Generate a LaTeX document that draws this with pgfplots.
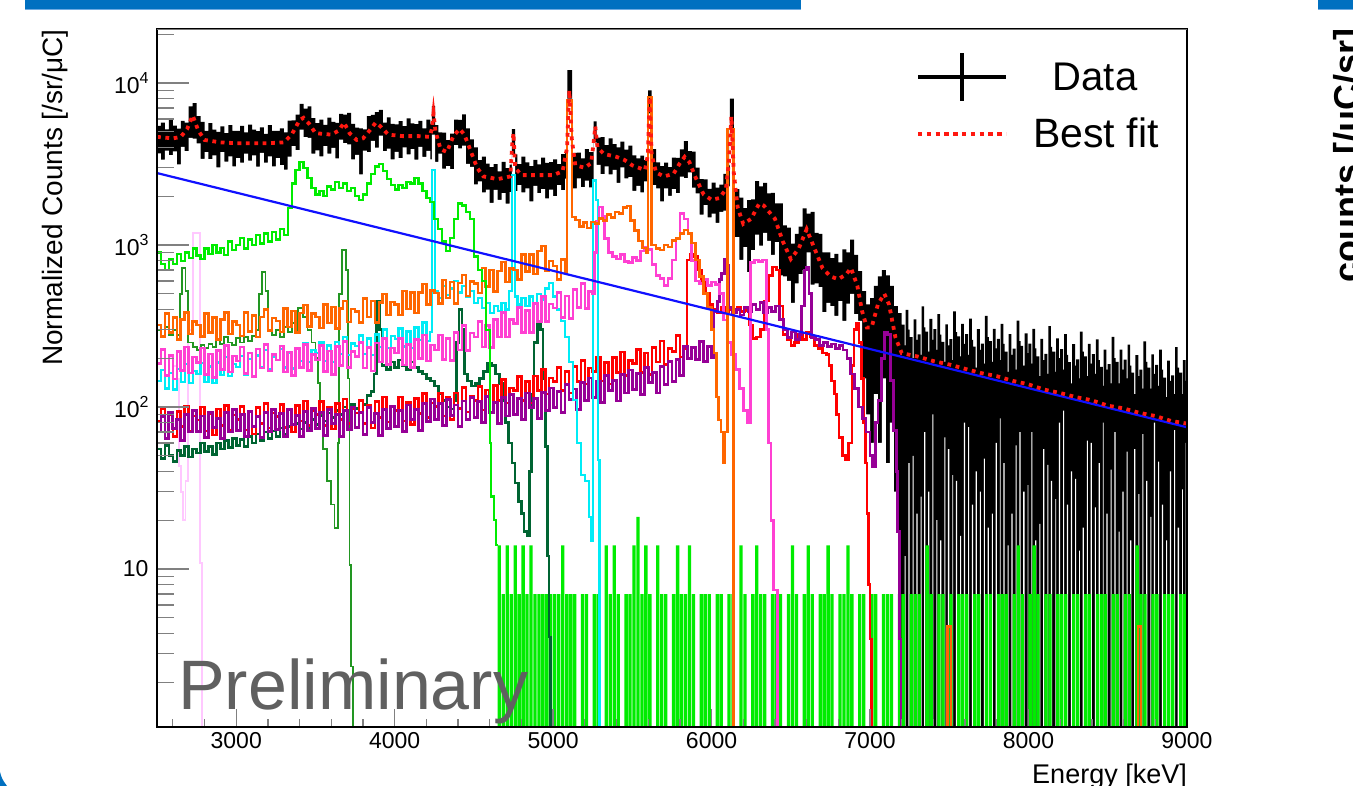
\documentclass[border=0pt]{standalone}
\usepackage{pgfplots}
\pgfplotsset{compat=1.18}
\usepackage{pgfplotstable}
\usepackage{fontspec}
\setmainfont{Liberation Sans}

\definecolor{cLime}{RGB}{0,236,0}
\definecolor{cCyan}{RGB}{0,236,246}
\definecolor{cOrange}{RGB}{255,102,0}
\definecolor{cPink}{RGB}{255,64,210}
\definecolor{cPale}{RGB}{255,200,255}
\definecolor{cGreenA}{RGB}{34,150,34}
\definecolor{cGreenB}{RGB}{0,100,50}
\definecolor{cRed}{RGB}{255,0,0}
\definecolor{cPurple}{RGB}{150,0,150}
\definecolor{cBlue}{RGB}{16,16,255}
\definecolor{cFit}{RGB}{255,24,16}
\definecolor{cDeco}{RGB}{0,112,192}
\definecolor{cDecoL}{RGB}{110,170,225}
\definecolor{cPrelim}{RGB}{96,96,96}
\definecolor{cFrame}{RGB}{120,120,120}

\newcommand\sz[1]{\fontsize{#1bp}{#1bp}\selectfont}
\newcommand\supr[1]{\raisebox{0.42em}{\sz{16}#1}}

% measured spectrum: lower and upper ends of the error bars per bin
\pgfplotstableread{
x lo hi
2490 1 1
2500 3680 5430
2525 3370 5690
2550 3830 5180
2575 3590 5980
2600 3780 5460
2625 3150 5220
2650 4040 5830
2675 3800 5700
2700 4590 7170
2725 4540 7500
2750 4240 6250
2775 3400 5750
2800 3740 5060
2825 3390 5660
2850 3570 5160
2875 3010 4990
2900 3740 5390
2925 3270 4900
2950 3530 5500
2975 3060 5060
3000 3440 5070
3025 3220 5440
3050 3660 4950
3075 3320 5530
3100 3570 5160
3125 3050 5050
3150 3700 5330
3175 3230 4850
3200 3530 5500
3225 3060 5060
3250 3440 5070
3275 3110 5250
3300 2920 4950
3325 3510 5850
3350 4070 5880
3375 3850 6380
3400 5160 7440
3425 4640 6950
3450 4590 7170
3475 3670 6070
3500 3840 5660
3525 3520 5940
3550 4080 5520
3575 3670 6110
3600 3980 5760
3625 3430 5680
3650 4470 6450
3675 4260 6380
3700 4180 6530
3725 3380 5590
3750 3600 5310
3775 2730 5250
3800 3830 5180
3825 3740 6240
3850 4400 6360
3875 3990 6610
3900 4730 6820
3925 3800 5700
3950 3940 6140
3975 3380 5590
4000 3760 5550
4025 3440 5810
4050 4000 5410
4075 3630 6050
4100 3900 5640
4125 3360 5570
4150 4040 5830
4175 3500 5240
4200 3810 5950
4225 3380 5590
4235 4800 7200
4255 3260 5500
4275 3660 4950
4300 2960 4940
4325 3070 4440
4350 2940 4870
4375 4130 5950
4400 3950 5930
4425 4100 6400
4450 3170 5240
4475 3040 4480
4500 2370 4000
4525 2470 3340
4550 2110 3510
4575 2200 3180
4600 1820 3020
4625 2190 3160
4650 1900 2850
4675 2090 3260
4700 1800 2980
4725 2120 3130
4740 3600 5200
4760 2150 3630
4775 2340 3160
4800 2110 3510
4825 2240 3240
4850 1860 3070
4875 2320 3350
4900 2090 3140
4925 2210 3460
4950 1940 3210
4975 2200 3250
5000 2000 3380
5025 2340 3160
5050 2180 3640
5075 2570 3720
5090 8000 12000
5120 2240 3710
5150 2580 3720
5175 2280 3420
5200 2500 3900
5225 2270 3750
5255 4300 5800
5275 3120 4600
5300 2740 4630
5325 3060 4140
5350 2730 4550
5375 2910 4200
5400 2420 4000
5425 3010 4340
5450 2580 3880
5475 2620 4100
5500 2160 3570
5525 2320 3420
5550 2110 3560
5575 2470 3340
5600 6500 9000
5622 2340 3900
5650 2240 3240
5675 1860 3070
5700 2240 3220
5725 2010 3020
5750 2210 3460
5775 2090 3450
5800 2640 3890
5825 2590 4380
5850 2810 3800
5875 2260 3770
5900 2080 3000
5925 1540 2550
5950 1760 2540
5975 1480 2220
6000 1560 2430
6025 1370 2260
6050 1600 2360
6075 1630 2750
6100 2300 3100
6115 5200 8000
6140 1120 2210
6175 810 1960
6200 970 1690
6225 680 1890
6250 930 1910
6275 1160 2480
6300 990 2300
6325 1190 2420
6350 1060 2080
6375 870 2100
6400 1040 1810
6425 650 1810
6450 640 1320
6475 600 1280
6500 440 1020
6525 580 1170
6550 660 1300
6575 700 1680
6600 900 1560
6625 570 1600
6650 580 1190
6675 550 1170
6700 385 900
6725 440 900
6750 420 830
6775 365 880
6800 450 780
6825 340 940
6850 435 900
6875 500 1080
6900 375 870
6925 340 690
6950 150 520
6975 90 430
7000 60 470
7025 120 560
7050 60 640
7075 150 700
7100 45 650
7125 80 560
7150 30 420
7175 1 380
7200 1 322
7219 12 240
7225 1 398
7242 45 300
7250 1 270
7269 50 200
7275 1 347
7292 22 260
7300 1 281
7319 28 210
7325 1 418
7342 70 310
7350 1 292
7367 30 220
7375 1 350
7394 90 260
7400 1 302
7419 20 225
7425 1 374
7442 15 280
7450 1 252
7469 65 190
7475 1 324
7492 55 240
7500 1 262
7519 38 195
7525 1 389
7542 35 290
7550 1 273
7569 16 205
7575 1 326
7592 80 245
7600 1 282
7619 75 210
7625 1 351
7642 25 260
7650 1 236
7667 40 175
7675 1 303
7694 30 225
7700 1 246
7719 48 185
7725 1 365
7742 18 270
7750 1 255
7769 22 190
7775 1 304
7792 60 230
7800 1 263
7819 85 195
7825 1 326
7842 45 245
7850 1 220
7869 14 165
7875 1 282
7892 22 210
7900 1 229
7919 58 170
7925 1 341
7942 70 255
7950 1 238
7967 30 180
7975 1 285
7994 33 215
8000 1 246
8019 70 185
8025 1 304
8042 15 230
8050 1 205
8069 19 155
8075 1 263
8092 55 195
8100 1 213
8119 44 160
8125 1 316
8142 35 235
8150 1 220
8169 27 165
8175 1 265
8192 80 200
8200 1 228
8219 95 170
8225 1 282
8242 25 210
8250 1 189
8267 40 140
8275 1 244
8294 36 180
8300 1 197
8319 13 150
8325 1 292
8342 18 220
8350 1 205
8369 62 155
8375 1 245
8392 60 185
8400 1 212
8419 24 160
8425 1 261
8442 45 195
8450 1 177
8469 80 135
8475 1 226
8492 22 170
8500 1 184
8519 41 140
8525 1 271
8542 70 200
8550 1 190
8569 17 140
8575 1 226
8592 30 170
8600 1 196
8619 53 150
8625 1 243
8642 15 180
8650 1 163
8667 55 120
8675 1 209
8694 29 155
8700 1 170
8719 68 130
8725 1 254
8742 35 190
8750 1 175
8769 21 130
8775 1 211
8792 80 160
8800 1 182
8819 46 135
8825 1 226
8842 25 170
8850 1 152
8869 15 115
8875 1 193
8892 40 145
8900 1 157
8919 72 120
8925 1 234
8942 18 175
8950 1 163
8969 31 120
8975 1 195
8992 60 145
9000 1 195
9010 1 1
}\tabData

% total fit
\pgfplotstableread{
x y
2500 4650
2600 4550
2650 4650
2690 5200
2725 6300
2760 5100
2800 4450
2900 4300
3000 4250
3100 4250
3200 4250
3300 4300
3350 4800
3400 5900
3425 6100
3460 5600
3500 4900
3600 4800
3650 5100
3680 5700
3715 4900
3760 4450
3800 4550
3850 5200
3880 5700
3910 5400
3960 4800
4050 4700
4150 4700
4220 4650
4235 5200
4245 6500
4258 5000
4290 3900
4330 3750
4370 4700
4410 5200
4440 4800
4480 3800
4520 3000
4560 2650
4650 2550
4730 2650
4742 4200
4750 4900
4760 3000
4800 2700
4900 2700
5000 2700
5060 2850
5088 4000
5102 9000
5118 4500
5140 3100
5200 3000
5240 3200
5258 4500
5266 5400
5280 4000
5320 3650
5400 3500
5450 3350
5500 3100
5580 2900
5598 3600
5610 8200
5622 3600
5650 2800
5700 2650
5760 2750
5800 3200
5830 3500
5860 3250
5900 2600
5950 2050
6000 1900
6050 1950
6090 2200
6110 3300
6125 6200
6140 2800
6165 1700
6200 1350
6250 1450
6300 1800
6330 1750
6400 1450
6450 1050
6500 820
6550 950
6600 1250
6650 950
6700 720
6750 640
6800 615
6850 660
6880 720
6920 560
6950 390
6980 310
7010 310
7050 430
7090 500
7120 430
7160 270
7200 215
7300 205
7400 192
7500 183
7600 172
7700 162
7800 155
7900 145
8000 138
8100 128
8200 122
8300 115
8400 110
8500 102
8600 98
8700 92
8800 88
8900 82
9000 79
}\tabFit

\pgfplotstableread{
x y
2500 900
2525 760
2550 700
2575 820
2600 760
2625 880
2650 800
2675 900
2700 830
2725 950
2750 860
2775 820
2800 950
2825 880
2850 1000
2875 900
2900 960
2925 870
2950 1050
2975 930
3000 1000
3025 1100
3050 950
3075 1080
3100 1000
3125 1150
3150 1020
3175 1180
3200 1050
3225 1200
3250 1080
3275 1250
3300 1150
3325 1700
3350 2400
3375 2900
3400 3250
3425 3000
3450 2600
3475 2250
3500 2050
3525 2150
3550 2000
3575 2300
3600 2200
3625 2450
3650 2250
3675 2400
3700 2150
3725 2250
3750 2000
3775 1900
3800 2050
3825 2400
3850 2750
3875 3050
3900 3150
3925 2850
3950 2550
3975 2350
4000 2200
4025 2350
4050 2250
4075 2450
4100 2400
4125 2600
4150 2400
4175 2150
4200 1950
4225 1850
4250 1450
4275 1250
4300 1050
4325 920
4350 1100
4375 1450
4400 1800
4425 1750
4450 1600
4475 1450
4500 850
4525 700
4550 600
4575 300
4600 60
4610 28
4625 20
4640 14
4650 14
}\tabLime

% low-statistics tail of the first component (single counts)
\pgfplotstableread{
x y
4640 1
4650 14
4671 1
4675 7
4696 1
4700 14
4721 1
4725 7
4746 1
4750 14
4771 1
4775 7
4796 1
4800 14
4821 1
4825 7
4846 1
4850 14
4871 1
4875 7
4896 1
4900 7
4921 1
4925 7
4946 1
4950 7
4971 1
4975 7
4996 1
5000 7
5021 1
5025 7
5046 1
5050 14
5071 1
5075 7
5096 1
5100 7
5121 1
5125 7
5146 1
5150 1
5175 7
5196 1
5200 7
5221 1
5225 1
5250 7
5271 1
5275 7
5296 1
5300 1
5325 14
5346 1
5350 7
5371 1
5375 14
5396 1
5400 7
5421 1
5425 1
5450 7
5471 1
5475 7
5496 1
5500 14
5521 1
5525 21
5546 1
5550 7
5571 1
5575 14
5596 1
5600 7
5621 1
5625 1
5650 14
5671 1
5675 7
5696 1
5700 7
5721 1
5725 1
5750 7
5771 1
5775 14
5796 1
5800 7
5821 1
5825 7
5846 1
5850 14
5871 1
5875 7
5896 1
5900 1
5925 7
5946 1
5950 7
5971 1
5975 7
5996 1
6000 1
6025 7
6046 1
6050 7
6071 1
6075 1
6100 7
6121 1
6125 7
6146 1
6150 1
6175 14
6196 1
6200 7
6221 1
6225 1
6250 7
6271 1
6275 14
6296 1
6300 7
6321 1
6325 7
6346 1
6350 1
6375 7
6396 1
6400 7
6421 1
6425 7
6446 1
6450 1
6475 7
6496 1
6500 14
6521 1
6525 7
6546 1
6550 1
6575 7
6596 1
6600 14
6621 1
6625 7
6646 1
6650 1
6675 7
6696 1
6700 7
6721 1
6725 14
6746 1
6750 7
6771 1
6775 1
6800 7
6821 1
6825 7
6846 1
6850 14
6871 1
6875 7
6896 1
6900 1
6925 7
6946 1
6950 7
6971 1
6975 1
7000 7
7021 1
7025 7
7046 1
7050 1
7075 7
7096 1
7100 7
7121 1
7125 7
7146 1
7150 1
7175 7
7196 1
7200 7
7221 1
7225 1
7250 7
7271 1
7275 7
7296 1
7300 7
7321 1
7325 1
7350 14
7371 1
7375 7
7396 1
7400 1
7425 7
7446 1
7450 7
7471 1
7475 1
7500 7
7521 1
7525 1
7550 7
7571 1
7575 7
7596 1
7600 7
7621 1
7625 1
7650 7
7671 1
7675 7
7696 1
7700 1
7725 7
7746 1
7750 7
7771 1
7775 1
7800 7
7821 1
7825 7
7846 1
7850 7
7871 1
7875 1
7900 7
7921 1
7925 14
7946 1
7950 7
7971 1
7975 1
8000 7
8021 1
8025 14
8046 1
8050 7
8071 1
8075 1
8100 7
8121 1
8125 7
8146 1
8150 1
8175 7
8196 1
8200 7
8221 1
8225 7
8246 1
8250 1
8275 7
8296 1
8300 7
8321 1
8325 1
8350 7
8371 1
8375 7
8396 1
8400 1
8425 7
8446 1
8450 7
8471 1
8475 7
8496 1
8500 1
8525 7
8546 1
8550 7
8571 1
8575 1
8600 7
8621 1
8625 7
8646 1
8650 1
8675 14
8696 1
8700 7
8721 1
8725 7
8746 1
8750 1
8775 7
8796 1
8800 7
8821 1
8825 1
8850 7
8871 1
8875 7
8896 1
8900 7
8921 1
8925 1
8950 7
8971 1
8975 7
8996 1
9000 7
9010 1
}\tabLimeLow

\pgfplotstableread{
x y
2500 145
2525 169
2550 130
2575 162
2600 128
2625 171
2650 143
2675 184
2700 141
2725 167
2750 160
2775 186
2800 143
2825 178
2850 141
2875 188
2900 158
2925 203
2950 156
2975 184
3000 177
3025 206
3050 158
3075 197
3100 156
3125 208
3150 175
3175 224
3200 172
3225 203
3250 195
3275 227
3300 175
3325 217
3350 173
3375 230
3400 193
3425 247
3450 190
3475 224
3500 215
3525 250
3550 193
3575 240
3600 190
3625 253
3650 212
3675 271
3700 210
3725 247
3750 237
3775 276
3800 213
3825 265
3850 210
3875 280
3900 234
3925 301
3950 231
3975 273
4000 262
4025 305
4050 236
4075 292
4100 232
4125 309
4150 259
4175 332
4200 256
4225 290
4235 2900
4255 520
4275 470
4300 560
4325 490
4350 540
4375 600
4400 510
4425 560
4450 480
4475 520
4500 440
4525 470
4550 410
4575 440
4600 380
4625 420
4650 390
4675 440
4700 400
4720 520
4740 2700
4760 480
4775 430
4800 470
4825 420
4850 480
4875 440
4900 500
4925 460
4950 540
4975 580
5000 480
5025 400
5050 340
5075 270
5100 190
5125 110
5150 60
5175 38
5200 35
5225 21
5240 15
5250 2500
5272 1900
5282 47
5292 1
9000 1
}\tabCyan

\pgfplotstableread{
x y
2500 320
2525 272
2550 378
2575 288
2600 358
2625 262
2650 346
2675 384
2700 282
2725 336
2750 320
2775 272
2800 378
2825 288
2850 358
2875 262
2900 346
2925 384
2950 282
2975 336
3000 320
3025 274
3050 382
3075 293
3100 367
3125 271
3150 359
3175 401
3200 296
3225 355
3250 340
3275 291
3300 407
3325 312
3350 391
3375 288
3400 381
3425 426
3450 314
3475 377
3500 360
3525 308
3550 431
3575 330
3600 414
3625 305
3650 405
3675 452
3700 334
3725 403
3750 388
3775 332
3800 466
3825 359
3850 451
3875 333
3900 443
3925 498
3950 370
3975 446
4000 430
4025 370
4050 519
4075 403
4100 511
4125 380
4150 510
4175 576
4200 431
4225 522
4250 505
4275 434
4300 609
4325 470
4350 591
4375 437
4400 582
4425 654
4450 484
4475 593
4500 580
4525 506
4550 720
4575 555
4600 700
4625 518
4650 691
4675 786
4700 590
4725 719
4750 700
4775 612
4800 873
4825 684
4850 874
4875 664
4900 918
4925 984
4950 695
4975 798
5000 740
5025 612
5050 814
5075 670
5088 7800
5118 1490
5140 1430
5165 1300
5190 1380
5215 1270
5240 1390
5265 1360
5290 1460
5315 1420
5340 1540
5365 1480
5390 1600
5415 1560
5440 1700
5465 1740
5490 1420
5515 1230
5540 1060
5565 960
5590 890
5600 8200
5622 1000
5650 950
5675 930
5700 1000
5725 970
5750 1070
5775 1100
5800 1180
5825 1240
5850 1180
5875 1030
5900 810
5925 640
5950 500
5975 410
6000 300
6015 215
6030 115
6045 83
6060 70
6075 45
6085 70
6100 5200
6140 1
7490 4.4
7510 1
8690 4.4
8710 1
9000 1
}\tabOrange

\pgfplotstableread{
x y
2500 185
2525 226
2550 156
2575 208
2600 149
2625 221
2650 168
2675 234
2700 162
2725 203
2750 188
2775 231
2800 159
2825 212
2850 152
2875 224
2900 171
2925 239
2950 164
2975 206
3000 192
3025 234
3050 161
3075 216
3100 154
3125 228
3150 174
3175 243
3200 167
3225 210
3250 195
3275 238
3300 164
3325 218
3350 156
3375 230
3400 176
3425 244
3450 168
3475 211
3500 195
3525 239
3550 165
3575 222
3600 159
3625 236
3650 181
3675 253
3700 175
3725 220
3750 205
3775 251
3800 174
3825 233
3850 167
3875 248
3900 190
3925 265
3950 183
3975 231
4000 215
4025 264
4050 182
4075 244
4100 175
4125 260
4150 199
4175 278
4200 192
4225 242
4250 225
4275 279
4300 196
4325 265
4350 193
4375 289
4400 225
4425 319
4450 224
4475 286
4500 270
4525 336
4550 235
4575 319
4600 232
4625 348
4650 270
4675 384
4700 270
4725 347
4750 328
4775 410
4800 289
4825 394
4850 288
4875 434
4900 338
4925 480
4950 337
4975 432
5000 408
5025 508
5050 356
5075 484
5100 352
5125 529
5150 410
5175 580
5200 406
5225 518
5250 500
5262 900
5275 1400
5290 1720
5310 1500
5325 1100
5350 900
5375 850
5400 820
5425 870
5450 790
5475 780
5500 840
5525 800
5550 920
5575 970
5600 940
5625 760
5650 650
5675 620
5700 560
5725 620
5750 810
5775 1100
5800 1570
5825 1450
5850 1180
5875 800
5900 600
5925 580
5950 610
5975 560
6000 590
6025 570
6050 500
6075 345
6100 250
6125 210
6150 170
6175 130
6200 95
6225 80
6245 780
6270 810
6295 790
6320 810
6345 300
6360 60
6375 20
6390 7.4
6415 1
9000 1
}\tabPink

\pgfplotstableread{
x y
2575 200
2600 180
2625 150
2638 43
2650 30
2665 20
2680 35
2695 300
2727 1180
2770 10.9
2785 1
}\tabPale

\pgfplotstableread{
x y
2500 300
2525 270
2550 310
2575 280
2600 300
2625 280
2645 500
2655 720
2680 520
2695 250
2725 235
2750 225
2775 240
2800 230
2825 245
2850 235
2875 260
2900 245
2925 270
2950 250
2975 240
3000 265
3025 250
3050 270
3075 255
3100 275
3125 300
3145 500
3160 680
3185 520
3200 300
3225 280
3250 300
3275 270
3300 310
3325 290
3350 330
3375 300
3390 410
3420 360
3450 300
3475 250
3500 200
3515 140
3530 90
3550 55
3575 35
3600 25
3620 18
3640 60
3650 500
3665 930
3690 700
3705 150
3715 10.6
3725 2.5
3735 1
3745 1
}\tabGreenA

\pgfplotstableread{
x y
2500 55
2525 48
2550 58
2575 50
2600 46
2625 54
2650 50
2675 57
2700 49
2725 55
2750 52
2775 60
2800 53
2825 57
2850 51
2875 60
2900 55
2925 62
2950 56
2975 64
3000 58
3025 63
3050 57
3075 66
3100 60
3125 68
3150 62
3175 70
3200 64
3225 71
3250 66
3275 74
3300 68
3325 76
3350 70
3375 79
3400 73
3425 80
3450 75
3475 84
3500 78
3525 88
3550 82
3575 92
3600 86
3625 95
3650 90
3675 100
3700 94
3725 104
3750 98
3775 110
3800 104
3825 118
3850 125
3870 160
3885 450
3905 300
3920 180
3950 170
3975 190
4000 175
4025 195
4050 180
4075 170
4100 190
4125 175
4150 165
4175 160
4200 150
4225 145
4250 135
4275 120
4300 110
4325 100
4350 97
4375 110
4390 250
4405 400
4425 300
4440 160
4460 145
4485 135
4510 140
4535 150
4560 165
4585 185
4610 180
4635 160
4660 140
4680 110
4700 80
4720 60
4740 45
4760 34
4780 26
4800 22
4815 17
4835 16
4850 40
4865 120
4880 250
4900 330
4920 300
4935 150
4950 57
4965 12
4975 3.8
4985 1
}\tabGreenB

\pgfplotstableread{
x y
2500 82
2525 98
2550 70
2575 90
2600 66
2625 94
2650 76
2675 101
2700 71
2725 88
2750 83
2775 100
2800 71
2825 91
2850 67
2875 97
2900 77
2925 102
2950 72
2975 89
3000 84
3025 101
3050 72
3075 94
3100 68
3125 99
3150 79
3175 105
3200 74
3225 92
3250 87
3275 104
3300 75
3325 97
3350 70
3375 102
3400 82
3425 109
3450 77
3475 95
3500 90
3525 108
3550 77
3575 100
3600 73
3625 105
3650 84
3675 112
3700 79
3725 98
3750 92
3775 110
3800 79
3825 102
3850 74
3875 108
3900 86
3925 115
3950 81
3975 101
4000 95
4025 115
4050 82
4075 107
4100 78
4125 113
4150 91
4175 121
4200 86
4225 106
4250 101
4275 122
4300 88
4325 114
4350 84
4375 122
4400 98
4425 132
4450 93
4475 116
4500 110
4525 134
4550 96
4575 127
4600 93
4625 136
4650 110
4675 148
4700 106
4725 131
4750 126
4775 154
4800 110
4825 144
4850 106
4875 155
4900 126
4925 170
4950 120
4975 151
5000 144
5025 175
5050 126
5075 166
5100 122
5125 178
5150 144
5175 194
5200 139
5225 174
5250 166
5275 202
5300 145
5325 189
5350 139
5375 202
5400 163
5425 218
5450 156
5475 194
5500 185
5525 227
5550 163
5575 216
5600 159
5625 233
5650 190
5675 256
5700 183
5725 230
5750 220
5775 276
5800 204
5825 230
5845 810
5865 870
5885 850
5910 700
5935 600
5960 500
5985 430
6010 400
6035 380
6060 410
6085 390
6110 400
6135 380
6160 410
6185 390
6210 395
6235 320
6260 265
6285 270
6310 300
6335 450
6360 650
6385 730
6410 700
6430 420
6450 280
6475 260
6500 240
6525 250
6550 280
6575 260
6600 290
6625 270
6650 240
6675 230
6700 215
6725 210
6740 180
6755 145
6775 120
6790 90
6805 65
6825 50
6845 47
6865 60
6885 180
6900 300
6915 330
6930 250
6945 150
6960 80
6970 45
6980 22
6990 8
7000 3.7
7010 1
}\tabRed

\pgfplotstableread{
x y
2500 70
2525 87
2550 64
2575 92
2600 74
2625 84
2650 62
2675 90
2700 70
2725 95
2750 71
2775 88
2800 65
2825 93
2850 75
2875 85
2900 64
2925 92
2950 70
2975 96
3000 72
3025 90
3050 66
3075 94
3100 76
3125 87
3150 65
3175 93
3200 71
3225 97
3250 73
3275 91
3300 66
3325 97
3350 78
3375 89
3400 66
3425 94
3450 72
3475 98
3500 74
3525 92
3550 67
3575 97
3600 79
3625 90
3650 66
3675 95
3700 73
3725 100
3750 75
3775 93
3800 68
3825 99
3850 80
3875 91
3900 67
3925 97
3950 74
3975 101
4000 76
4025 95
4050 71
4075 103
4100 84
4125 96
4150 72
4175 105
4200 81
4225 112
4250 84
4275 105
4300 77
4325 111
4350 89
4375 103
4400 76
4425 109
4450 84
4475 114
4500 86
4525 108
4550 80
4575 116
4600 93
4625 107
4650 79
4675 115
4700 88
4725 120
4750 90
4775 113
4800 84
4825 122
4850 99
4875 113
4900 85
4925 123
4950 95
4975 131
5000 99
5025 125
5050 93
5075 137
5100 111
5125 129
5150 97
5175 141
5200 110
5225 151
5250 115
5275 144
5300 107
5325 156
5350 127
5375 146
5400 109
5425 159
5450 122
5475 169
5500 128
5525 161
5550 120
5575 175
5600 142
5625 163
5650 122
5675 178
5700 137
5725 190
5750 144
5775 196
5800 156
5825 236
5850 200
5875 232
5900 196
5925 253
5950 192
5975 236
6000 201
6015 390
6035 450
6050 610
6065 670
6080 810
6095 750
6110 410
6130 380
6155 400
6180 370
6205 410
6230 390
6255 430
6280 400
6305 440
6330 380
6355 410
6380 390
6405 420
6430 345
6455 300
6480 270
6505 290
6530 260
6555 280
6570 420
6585 700
6600 730
6615 500
6630 270
6655 260
6680 240
6705 250
6730 235
6755 245
6780 230
6805 240
6830 225
6855 200
6875 160
6900 130
6925 100
6950 85
6975 70
7000 50
7015 43
7035 80
7050 110
7070 200
7090 290
7110 280
7130 145
7150 72
7165 40
7175 17
7185 3.7
7195 1
}\tabPurple

\begin{document}
\begin{tikzpicture}
\useasboundingbox (0,0) rectangle (1353bp,786bp);
\begin{axis}[
  at={(157bp,59bp)}, anchor=south west, scale only axis,
  width=1030bp, height=698bp,
  xmin=2500, xmax=9000,
  ymode=log, ymin=1.0585, ymax=21544,
  axis on top,
  axis line style={black, line width=1.3bp},
  tick pos=left, tick align=inside,
  xtick={3000,4000,5000,6000,7000,8000,9000},
  xticklabels={3000,4000,5000,6000,7000,8000,9000},
  minor xtick={2600,2800,3200,3400,3600,3800,4200,4400,4600,4800,5200,5400,5600,5800,6200,6400,6600,6800,7200,7400,7600,7800,8200,8400,8600,8800},
  ytick={10,100,1000,10000},
  yticklabels={10,10\supr{2},10\supr{3},10\supr{4}},
  minor ytick={2,3,4,5,6,7,8,9,20,30,40,50,60,70,80,90,200,300,400,500,600,700,800,900,2000,3000,4000,5000,6000,7000,8000,9000,20000},
  major tick length=32bp, minor tick length=17bp,
  xtick style={/pgfplots/major tick length=18bp, /pgfplots/minor tick length=8bp, line width=1.3bp},
  ytick style={line width=1.3bp},
  tick label style={font=\sz{23}},
  xticklabel style={yshift=-2bp},
  yticklabel style={xshift=-5bp},
  /pgf/number format/assume math mode=true,
  every axis plot/.append style={no marks},
]
% measured counts with their error bars: upper ends filled black, lower ends cut out
\addplot[const plot, fill=black, draw=none] table[x=x,y=hi]{\tabData};
\addplot[const plot, fill=white, draw=none] table[x=x,y=lo]{\tabData};

% low-statistics tail of the first component
\addplot[const plot, fill=cLime, draw=none] table{\tabLimeLow};

% fit components
\addplot[const plot, cPale, line width=1.8bp] table{\tabPale};
\addplot[const plot, cGreenB, line width=2.6bp] table{\tabGreenB};
\addplot[const plot, cGreenA, line width=1.9bp] table{\tabGreenA};
\addplot[const plot, cRed, line width=2.6bp] table{\tabRed};
\addplot[const plot, cPurple, line width=2.8bp] table{\tabPurple};
\addplot[const plot, cCyan, line width=2.3bp] table{\tabCyan};
\addplot[const plot, cPink, line width=2.6bp] table{\tabPink};
\addplot[const plot, cOrange, line width=2.6bp] table{\tabOrange};
\addplot[const plot, cLime, line width=2.3bp] table{\tabLime};
% background
\addplot[cBlue, line width=2.2bp] coordinates {(2500,2780) (9000,75)};
% sum of all components
\addplot[cFit, line width=3.8bp, dash pattern=on 3.8bp off 4.6bp] table{\tabFit};
\end{axis}

% frame top edge
\draw[cFrame, line width=1.5bp] (157bp,756.7bp) -- (1187bp,756.7bp);

% axis titles
\node[rotate=90, anchor=north east, font=\sz{28}, inner sep=0pt] at (42bp,757bp) {Normalized Counts [/sr/μC]};
\node[anchor=base east, font=\sz{27}, inner sep=0pt] at (1187bp,3bp) {Energy [keV]};
\node[anchor=base west, font=\sz{70}, text=cPrelim, inner sep=0pt] at (178bp,76bp) {Preliminary};

% legend
\draw[black, line width=4bp] (918bp,709bp) -- (1006bp,709bp);
\draw[black, line width=4bp] (962bp,685bp) -- (962bp,733bp);
\node[anchor=base, font=\sz{40}, inner sep=0pt] at (1095bp,695bp) {Data};
\draw[cFit, line width=4bp, dash pattern=on 4.4bp off 4.4bp] (918bp,652bp) -- (1006bp,652bp);
\node[anchor=base, font=\sz{41}, inner sep=0pt] at (1096bp,638bp) {Best fit};

% slide decorations
\fill[cDeco] (25bp,777bp) rectangle (801bp,786bp);
\fill[cDecoL] (25bp,775.8bp) rectangle (801bp,777.2bp);
\fill[cDeco] (1318bp,777bp) rectangle (1353bp,786bp);
\fill[cDecoL] (1318bp,775.8bp) rectangle (1353bp,777.2bp);
\fill[cDeco] (0,0) -- (0,14bp) .. controls (2bp,7bp) .. (7bp,0) -- cycle;
\node[rotate=90, anchor=base east, font=\bfseries\sz{36}, inner sep=0pt] at (1359bp,758bp) {counts [/μC/sr]};
\end{tikzpicture}
\end{document}
